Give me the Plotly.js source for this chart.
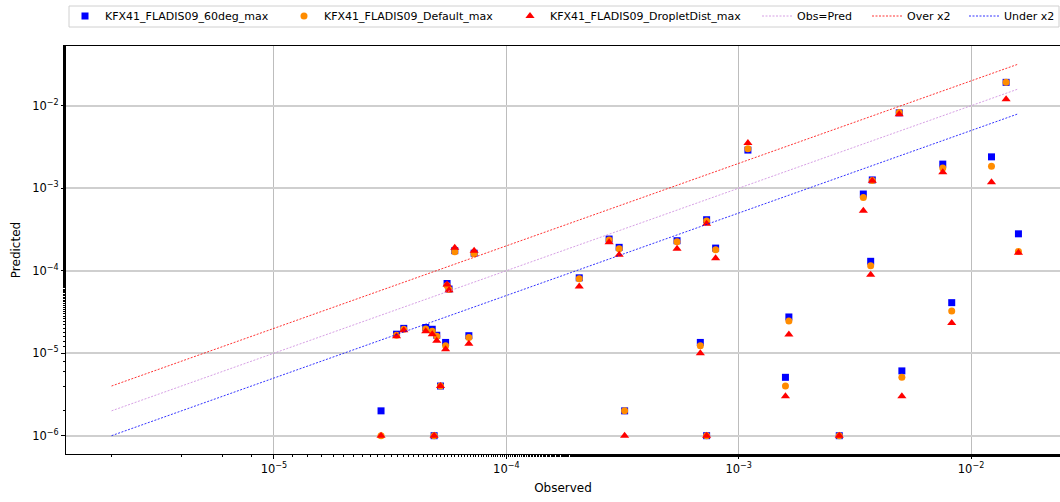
<!DOCTYPE html>
<html>
<head>
<meta charset="utf-8">
<script src="https://cdn.plot.ly/plotly-3.0.1.min.js"></script>
<style>
  html, body { margin: 0; padding: 0; background: #ffffff; }
  #chart { width: 1060px; height: 502px; }
</style>
</head>
<body>
<div id="chart"></div>
<script>
// Observed values (x)
const observed = [2.89e-5, 3.37e-5, 3.62e-5, 4.5e-5, 4.8e-5, 4.89e-5, 5.02e-5, 5.21e-5, 5.48e-5, 5.56e-5,
  5.67e-5, 6.0e-5, 6.9e-5, 7.27e-5, 2.06e-4, 2.77e-4, 3.06e-4, 3.23e-4, 5.43e-4, 6.84e-4,
  7.28e-4, 7.28e-4, 7.96e-4, 1.096e-3, 1.59e-3, 1.645e-3, 2.71e-3, 3.44e-3, 3.7e-3, 3.76e-3,
  4.91e-3, 5.04e-3, 7.56e-3, 8.26e-3, 1.225e-2, 1.416e-2, 1.6e-2];

// Predicted values per model
const pred60deg = [2e-6, 1.7e-5, 2.0e-5, 2.05e-5, 1.95e-5, 1e-6, 1.65e-5, 4e-6, 1.35e-5, 7.0e-5,
  6.0e-5, 1.75e-4, 1.63e-5, 1.63e-4, 8.2e-5, 2.42e-4, 1.92e-4, 2.0e-6, 2.31e-4, 1.35e-5,
  4.15e-4, 1e-6, 1.88e-4, 2.9e-3, 5.1e-6, 2.75e-5, 1e-6, 8.5e-4, 1.3e-4, 1.26e-3,
  8.2e-3, 6.1e-6, 1.96e-3, 4.1e-5, 2.4e-3, 1.92e-2, 2.8e-4];

const predDefault = [1e-6, 1.65e-5, 1.95e-5, 1.97e-5, 1.85e-5, 1e-6, 1.6e-5, 4e-6, 1.23e-5, 6.6e-5,
  5.9e-5, 1.7e-4, 1.55e-5, 1.6e-4, 8.0e-5, 2.35e-4, 1.85e-4, 2.0e-6, 2.25e-4, 1.23e-5,
  4.0e-4, 1e-6, 1.8e-4, 3.0e-3, 4.0e-6, 2.46e-5, 1e-6, 7.7e-4, 1.15e-4, 1.24e-3,
  8.3e-3, 5.1e-6, 1.76e-3, 3.24e-5, 1.84e-3, 1.92e-2, 1.71e-4];

const predDroplet = [1e-6, 1.6e-5, 1.9e-5, 1.85e-5, 1.7e-5, 1e-6, 1.42e-5, 4e-6, 1.12e-5, 6.8e-5,
  5.8e-5, 1.9e-4, 1.3e-5, 1.75e-4, 6.45e-5, 2.22e-4, 1.56e-4, 1e-6, 1.85e-4, 1.0e-5,
  3.7e-4, 1e-6, 1.42e-4, 3.53e-3, 3.0e-6, 1.69e-5, 1e-6, 5.34e-4, 8.95e-5, 1.23e-3,
  7.9e-3, 3.0e-6, 1.56e-3, 2.32e-5, 1.18e-3, 1.2e-2, 1.65e-4];

const seriesNames = ["KFX41_FLADIS09_60deg_max", "KFX41_FLADIS09_Default_max", "KFX41_FLADIS09_DropletDist_max"];
const lineNames = ["Obs=Pred", "Over x2", "Under x2"];

// Reference lines
const refX = [2e-6, 1.6e-2];
const refObsPred = [2e-6, 1.6e-2];
const refOver = [4e-6, 3.2e-2];
const refUnder = [1e-6, 8e-3];

const xTickVals = [1e-5, 1e-4, 1e-3, 1e-2];
const xTickText = ["10<sup>\u22125</sup>", "10<sup>\u22124</sup>", "10<sup>\u22123</sup>", "10<sup>\u22122</sup>"];
const yTickVals = [1e-6, 1e-5, 1e-4, 1e-3, 1e-2];
const yTickText = ["10<sup>\u22126</sup>", "10<sup>\u22125</sup>", "10<sup>\u22124</sup>", "10<sup>\u22123</sup>", "10<sup>\u22122</sup>"];

const font = "DejaVu Sans, sans-serif";
const dotted = "2px,1.5px";

const traces = [
  { x: observed, y: pred60deg, name: seriesNames[0], mode: "markers", type: "scatter", legend: "legend",
    marker: { symbol: "square", size: 7, color: "#0000ff" } },
  { x: observed, y: predDefault, name: seriesNames[1], mode: "markers", type: "scatter", legend: "legend2",
    marker: { symbol: "circle", size: 7, color: "#ff8c00" } },
  { x: observed, y: predDroplet, name: seriesNames[2], mode: "markers", type: "scatter", legend: "legend3",
    marker: { symbol: "triangle-up", size: 8, color: "#ff0000" } },
  { x: refX, y: refObsPred, name: lineNames[0], mode: "lines", type: "scatter", legend: "legend4",
    line: { color: "#cc88dd", width: 0.8, dash: dotted } },
  { x: refX, y: refOver, name: lineNames[1], mode: "lines", type: "scatter", legend: "legend5",
    line: { color: "#ff0000", width: 0.8, dash: dotted } },
  { x: refX, y: refUnder, name: lineNames[2], mode: "lines", type: "scatter", legend: "legend6",
    line: { color: "#0000ff", width: 0.8, dash: dotted } }
];

// plot area geometry in pixels (for placing legend items in paper coords)
const L = 66, R = 0, T = 46, B = 48, W = 1060, H = 502;
const pw = W - L - R, ph = H - T - B;
const px2x = p => (p - L) / pw;
const py2y = p => (H - B - p) / ph;

function leg(leftPx) {
  return {
    x: px2x(leftPx), xanchor: "left", y: py2y(1.5), yanchor: "top",
    orientation: "h", bgcolor: "rgba(0,0,0,0)", borderwidth: 0,
    font: { family: font, size: 11, color: "#000" }
  };
}

const layout = {
  width: W, height: H,
  margin: { l: L, r: R, t: T, b: B },
  paper_bgcolor: "#ffffff", plot_bgcolor: "#ffffff",
  font: { family: font, size: 11.5, color: "#000000" },
  showlegend: true,
  legend: leg(65),
  legend2: leg(284),
  legend3: leg(510),
  legend4: leg(757),
  legend5: leg(867),
  legend6: leg(964),
  shapes: [{
    type: "rect", xref: "paper", yref: "paper",
    x0: px2x(69), x1: px2x(1059), y0: py2y(27), y1: py2y(6),
    line: { color: "#d0d0d0", width: 1 }, fillcolor: "#ffffff", layer: "below"
  }],
  xaxis: {
    type: "log", range: [-5.895, -1.617],
    tickvals: xTickVals, ticktext: xTickText,
    ticks: "outside", ticklen: 4, tickcolor: "#000", tickwidth: 1,
    showline: true, linecolor: "#000", linewidth: 1, mirror: true,
    showgrid: true, gridcolor: "#bdbdbd", gridwidth: 1, zeroline: false,
    minor: { ticks: "outside", ticklen: 2, tickcolor: "#000", showgrid: false },
    title: { text: "Observed", font: { family: font, size: 12 }, standoff: 8 },
    tickfont: { family: font, size: 11.5 }
  },
  yaxis: {
    type: "log", range: [-6.222, -1.276],
    tickvals: yTickVals, ticktext: yTickText,
    ticks: "outside", ticklen: 4, tickcolor: "#000", tickwidth: 1,
    showline: true, linecolor: "#000", linewidth: 1, mirror: false,
    showgrid: true, gridcolor: "#cfcfcf", gridwidth: 1.5, zeroline: false,
    minor: { ticks: "outside", ticklen: 2, tickcolor: "#000", showgrid: false },
    title: { text: "Predicted", font: { family: font, size: 12 }, standoff: 8 },
    tickfont: { family: font, size: 11.5 }
  }
};

Plotly.newPlot("chart", traces, layout, { displayModeBar: false, responsive: false });
</script>
</body>
</html>
